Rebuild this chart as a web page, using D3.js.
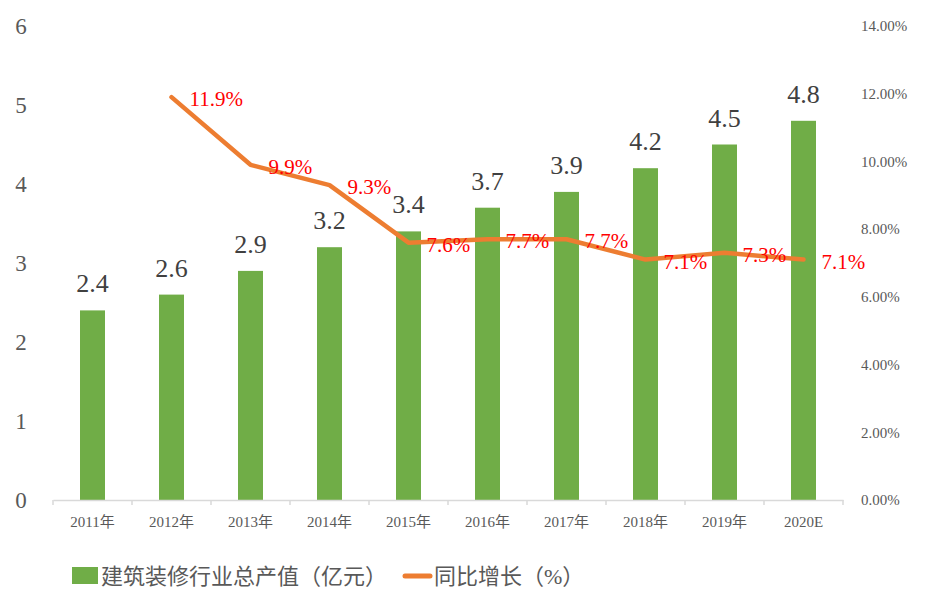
<!DOCTYPE html>
<html><head><meta charset="utf-8">
<script src="https://cdn.jsdelivr.net/npm/d3@7"></script>
<style>body{margin:0;background:#fff}svg{display:block}</style>
</head><body>
<svg id="c" width="928" height="614"></svg>
<script>
const categories = ["2011年","2012年","2013年","2014年","2015年","2016年","2017年","2018年","2019年","2020E"];
const outputValues = [2.4,2.6,2.9,3.2,3.4,3.7,3.9,4.2,4.5,4.8];
const growthValues = [null,11.9,9.9,9.3,7.6,7.7,7.7,7.1,7.3,7.1];
const leftTicks = [0,1,2,3,4,5,6];
const rightTicks = [0,2,4,6,8,10,12,14];
const seriesNames = ["建筑装修行业总产值（亿元）","同比增长（%）"];

const serif = "Liberation Serif, Times New Roman, DejaVu Serif, Noto Sans CJK SC, serif";
const svg = d3.select("#c");
const L = 53, R = 843, T = 26, B = 500;

const xc = d3.scaleBand().domain(categories).range([L, R]);
const y = d3.scaleLinear().domain([0, 6]).range([B, T]);
const y2 = d3.scaleLinear().domain([0, 14]).range([B, T]);

// bars
svg.append("g").selectAll("rect").data(outputValues).join("rect")
  .attr("x", (d,i) => xc(categories[i]) + xc.bandwidth()/2 - 12.5)
  .attr("width", 25)
  .attr("y", d => y(d))
  .attr("height", d => B - y(d))
  .attr("fill", "#70AD47");

// x axis
const xAxis = svg.append("g").attr("transform", `translate(0,${B})`)
  .call(d3.axisBottom(xc).tickSize(0).tickPadding(16));
xAxis.select(".domain").attr("stroke", "#d9d9d9").attr("stroke-width", 1.5);
xAxis.selectAll(".tick text").style("font-family", serif).attr("font-size", 15).attr("fill", "#595959");
svg.append("g").selectAll("line").data(categories.concat(["end"])).join("line")
  .attr("x1", (d,i) => i < categories.length ? xc(d) : R)
  .attr("x2", (d,i) => i < categories.length ? xc(d) : R)
  .attr("y1", B).attr("y2", B + 5)
  .attr("stroke", "#d9d9d9").attr("stroke-width", 1.5);

// left axis
const yAxis = svg.append("g").attr("transform", `translate(${L},0)`)
  .call(d3.axisLeft(y).tickValues(leftTicks).tickFormat(d3.format("d")).tickSize(0));
yAxis.select(".domain").remove();
yAxis.selectAll(".tick text").style("font-family", serif).attr("font-size", 23).attr("fill", "#595959")
  .attr("text-anchor", "middle").attr("x", -32);

// right axis
const yAxis2 = svg.append("g").attr("transform", `translate(${R},0)`)
  .call(d3.axisRight(y2).tickValues(rightTicks).tickFormat(d => d.toFixed(2) + "%").tickSize(0).tickPadding(18));
yAxis2.select(".domain").remove();
yAxis2.selectAll(".tick text").style("font-family", serif).attr("font-size", 15).attr("fill", "#595959");

// bar labels
svg.append("g").selectAll("text").data(outputValues).join("text")
  .attr("x", (d,i) => xc(categories[i]) + xc.bandwidth()/2)
  .attr("y", d => y(d) - 18)
  .attr("text-anchor", "middle")
  .style("font-family", serif).attr("font-size", 26).attr("fill", "#404040")
  .text(d => d.toFixed(1));

// line
const pts = growthValues.map((v,i) => ({v, c: categories[i]})).filter(d => d.v != null);
const line = d3.line().x(d => xc(d.c) + xc.bandwidth()/2).y(d => y2(d.v));
svg.append("path").datum(pts).attr("d", line)
  .attr("fill", "none").attr("stroke", "#ED7D31").attr("stroke-width", 4.5)
  .attr("stroke-linejoin", "round").attr("stroke-linecap", "round");

// line labels
svg.append("g").selectAll("text").data(pts).join("text")
  .attr("x", d => xc(d.c) + xc.bandwidth()/2 + 18)
  .attr("y", d => y2(d.v) + 9)
  .style("font-family", serif).attr("font-size", 21).attr("fill", "#FF0000")
  .text(d => d.v.toFixed(1) + "%");

// legend
const lg = svg.append("g");
lg.append("rect").attr("x", 72).attr("y", 567).attr("width", 26).attr("height", 17).attr("fill", "#70AD47");
lg.append("text").attr("x", 101).attr("y", 584).style("font-family", serif).attr("font-size", 22).attr("fill", "#595959").text(seriesNames[0]);
lg.append("line").attr("x1", 405).attr("x2", 430).attr("y1", 576).attr("y2", 576)
  .attr("stroke", "#ED7D31").attr("stroke-width", 5).attr("stroke-linecap", "round");
lg.append("text").attr("x", 434).attr("y", 584).style("font-family", serif).attr("font-size", 22).attr("fill", "#595959").text(seriesNames[1]);
</script>
</body></html>
